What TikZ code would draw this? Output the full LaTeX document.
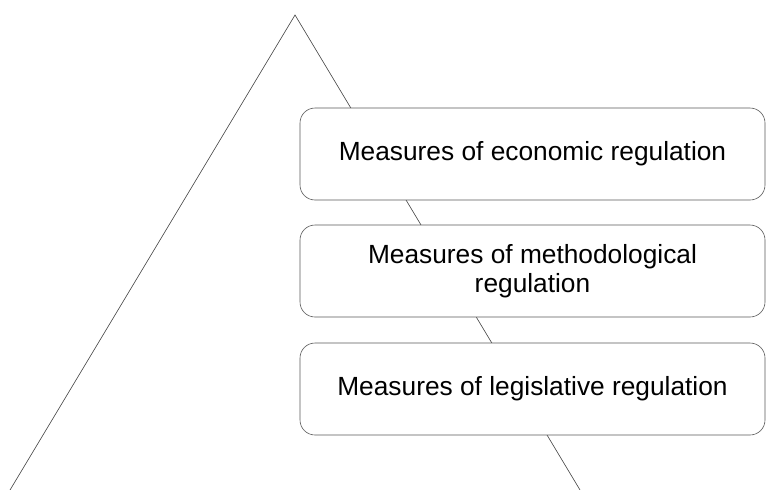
\documentclass[tikz,border=0pt]{standalone}
\usepackage{fontspec}
\setmainfont{Liberation Sans}
\usetikzlibrary{arrows,shapes}
\tikzstyle{pyr}=[draw=black!75, line width=0.6pt]
\tikzstyle{measure}=[draw=black!65, fill=white, line width=0.6pt,
  rounded corners=15pt, minimum width=465pt, minimum height=92pt,
  align=center, text=black, font=\fontsize{26.3}{29}\selectfont]

\begin{document}
\begin{tikzpicture}[x=1pt,y=-1pt]
\path[use as bounding box] (0,0) rectangle (766,490);
\coordinate (top) at (295,15);
\coordinate (bl) at (10,490);
\coordinate (br) at (580,490);
\draw[pyr] (bl) -- (top) -- (br);
\node[measure] (econ) at (532.5,154) {Measures of economic regulation};
\node[measure] (meth) at (532.5,271) {Measures of methodological\\regulation};
\node[measure] (legis) at (532.5,389) {Measures of legislative regulation};
\end{tikzpicture}
\end{document}
